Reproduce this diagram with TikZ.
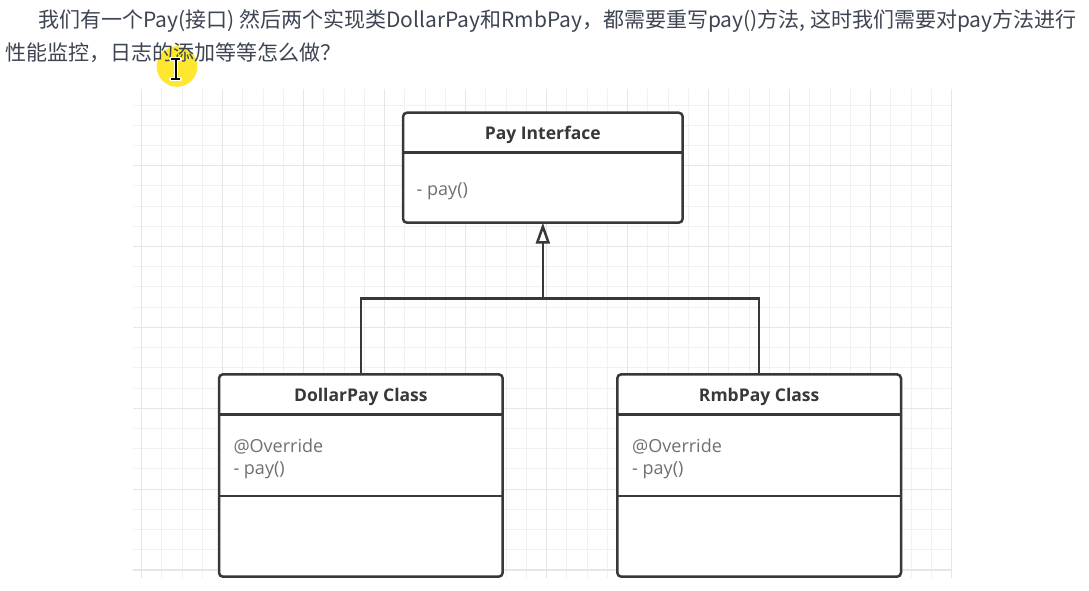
\documentclass[tikz,border=0pt]{standalone}
\usepackage{fontspec}
\setmainfont{Open Sans}
\newfontfamily\cjk{Noto Sans CJK SC}
\usetikzlibrary{arrows.meta}
\definecolor{txt}{HTML}{3D4452}
\definecolor{boxline}{HTML}{383838}
\definecolor{bodytxt}{HTML}{707070}
\definecolor{gridminor}{HTML}{F1F1F1}
\definecolor{gridmajor}{HTML}{E6E6E6}
\definecolor{hl}{HTML}{FDE72F}
\begin{document}
\begin{tikzpicture}[x=1pt,y=-1pt,
  umlbox/.style={draw=boxline, line width=2.5pt, rounded corners=4pt, fill=white, rectangle, outer sep=0pt, inner sep=0pt},
  sepline/.style={draw=boxline, line width=2.5pt},
  umltitle/.style={font=\fontsize{17.5pt}{20pt}\selectfont\bfseries, text=boxline, anchor=base, inner sep=0pt},
  member/.style={font=\fontsize{18pt}{20pt}\selectfont, text=bodytxt, anchor=base west, inner sep=0pt},
  cn/.style={font=\cjk\fontsize{21pt}{25pt}\selectfont, text=txt, anchor=base west, inner sep=0pt},
  link/.style={draw=boxline, line width=2.5pt},
  inherit/.style={link, -{Triangle[open, length=21pt, width=14pt, line width=2.5pt]}},
  minorgrid/.style={draw=gridminor, line width=1pt},
  majorgrid/.style={draw=gridmajor, line width=1.2pt},
]
\useasboundingbox (0,0) rectangle (1089,590);
\fill[white] (0,0) rectangle (1089,590);

% grid
\foreach \k in {0,...,40}{
  \draw[minorgrid] ({141.7+20.25*\k},89) -- ({141.7+20.25*\k},578);
}
\foreach \k in {0,...,23}{
  \draw[minorgrid] (133,{105+20.22*\k}) -- (952,{105+20.22*\k});
}
\foreach \k in {0,...,10}{
  \draw[majorgrid] ({141.7+81*\k},89) -- ({141.7+81*\k},578);
}
\foreach \k in {0,...,5}{
  \draw[majorgrid] (133,{165.66+80.88*\k}) -- (952,{165.66+80.88*\k});
}

% cursor highlight
\fill[hl] (177,66.5) circle (20.3);

% heading text
\node[cn] (line1) at (38,27.5) {我们有一个Pay(接口) 然后两个实现类DollarPay和RmbPay，都需要重写pay()方法, 这时我们需要对pay方法进行};
\node[cn] (line2) at (5,60) {性能监控，日志的添加等等怎么做？};

% I-beam cursor
\draw[white, line width=4pt, line cap=round]
  (171,58.5) -- (180,58.5) (175.5,58.5) -- (175.5,79) (171,79) -- (180,79);
\draw[black, line width=2pt]
  (171,58.5) -- (180,58.5) (175.5,58.5) -- (175.5,79) (171,79) -- (180,79);

% boxes
\node[umlbox, minimum width=279.7pt, minimum height=110pt] (pay) at (542.85,167.7) {};
\draw[sepline] ([yshift=-40pt]pay.north west) -- ([yshift=-40pt]pay.north east);
\node[umltitle] (paytitle) at (542.85,139.3) {Pay Interface};
\node[member] (paym) at (416.5,195) {- pay()};

\node[umlbox, minimum width=283.7pt, minimum height=202.4pt] (dollar) at (360.85,475.5) {};
\draw[sepline] ([yshift=-40pt]dollar.north west) -- ([yshift=-40pt]dollar.north east);
\draw[sepline] ([yshift=-121.7pt]dollar.north west) -- ([yshift=-121.7pt]dollar.north east);
\node[umltitle] (dollartitle) at (360.85,401.7) {DollarPay Class};
\node[member] (dollaro) at (233.3,452.7) {@Override};
\node[member] (dollarm) at (233.3,474) {- pay()};

\node[umlbox, minimum width=283.7pt, minimum height=202.4pt] (rmb) at (759.15,475.5) {};
\draw[sepline] ([yshift=-40pt]rmb.north west) -- ([yshift=-40pt]rmb.north east);
\draw[sepline] ([yshift=-121.7pt]rmb.north west) -- ([yshift=-121.7pt]rmb.north east);
\node[umltitle] (rmbtitle) at (759.15,401.7) {RmbPay Class};
\node[member] (rmbo) at (632,452.7) {@Override};
\node[member] (rmbm) at (632,474) {- pay()};

% connectors
\coordinate (join) at (542.85,298.3);
\draw[link] (dollar.north) |- (join) -| (rmb.north);
\draw[inherit] (join) -- (pay.south);
\end{tikzpicture}
\end{document}
